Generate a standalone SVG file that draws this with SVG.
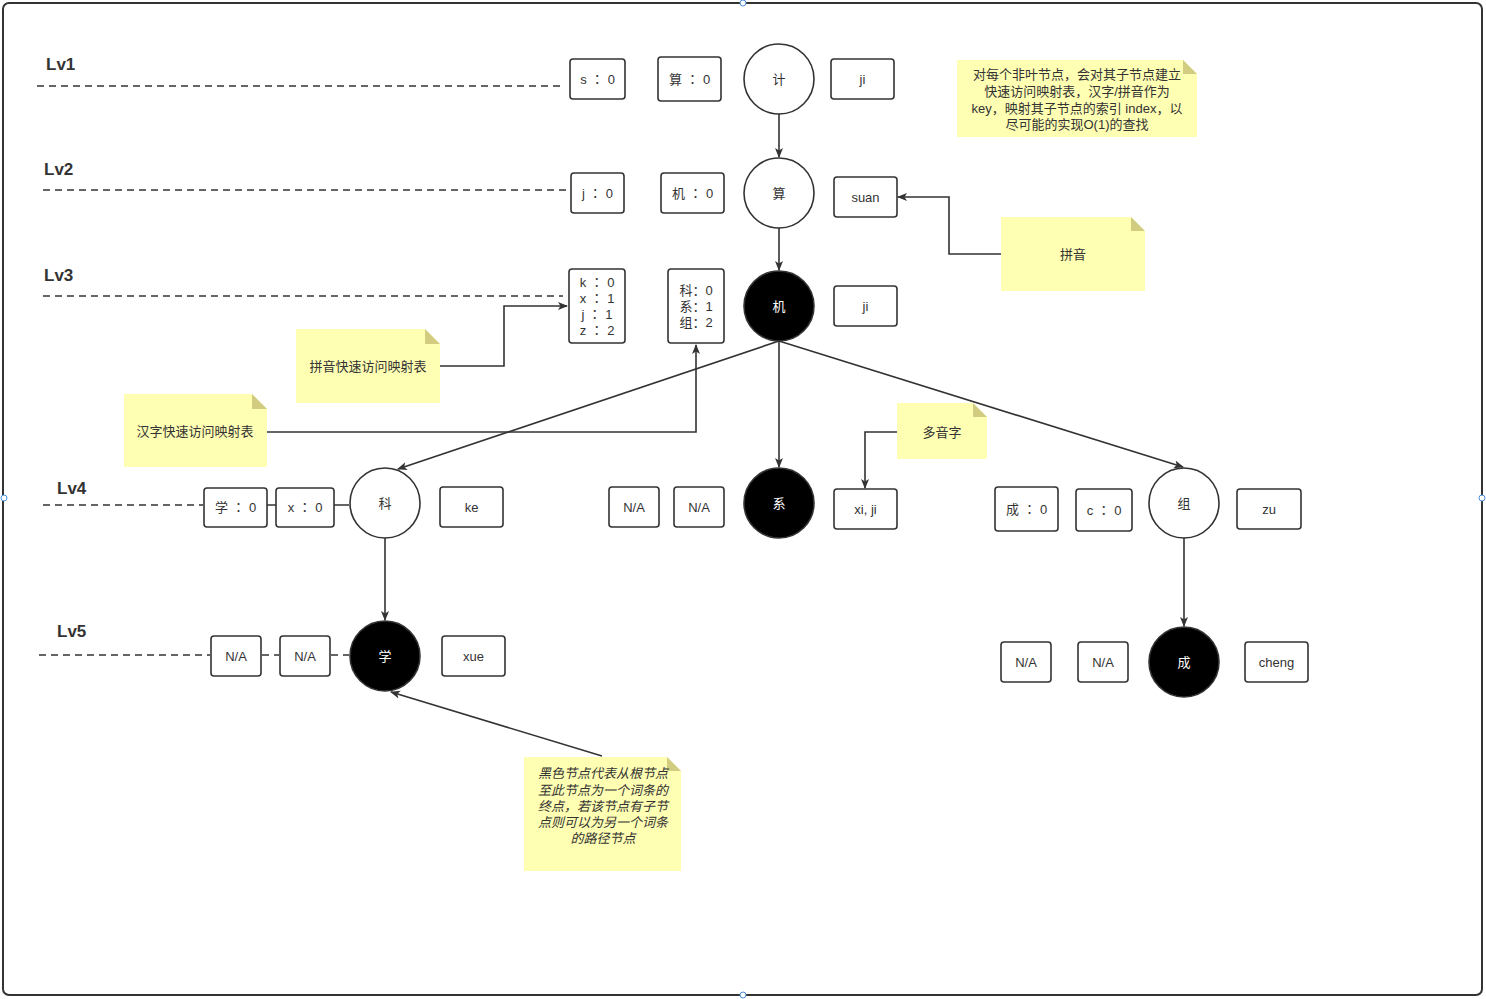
<svg xmlns="http://www.w3.org/2000/svg" width="1486" height="999" viewBox="0 0 1486 999">
<defs>
<marker id="arr" viewBox="0 0 10 10" refX="9" refY="5" markerWidth="10" markerHeight="10" markerUnits="userSpaceOnUse" orient="auto">
<path d="M0,1 L10,5 L0,9 L2.5,5 Z" fill="#333"/>
</marker>
<style>
.box{fill:#fff;stroke:#333;stroke-width:1.6}
.cw{fill:#fff;stroke:#333;stroke-width:1.6}
.cb{fill:#000;stroke:#333;stroke-width:1.6}
.t{font-family:"Liberation Sans","Noto Sans CJK SC",sans-serif;font-size:13px;fill:#333;text-anchor:middle;dominant-baseline:central}
.k{font-family:"Liberation Sans","Noto Sans CJK TC",sans-serif;letter-spacing:4px}
.tw{font-family:"Liberation Sans","Noto Sans CJK SC",sans-serif;font-size:13px;fill:#fff;text-anchor:middle;dominant-baseline:central}
.lv{font-family:"Liberation Sans","Noto Sans CJK SC",sans-serif;font-size:17px;fill:#333;font-weight:bold}
.dash{stroke:#333;stroke-width:1.6;stroke-dasharray:7 5;fill:none}
.note{fill:#ffffb3}
.fold{fill:#d2cc80}
.e{stroke:#333;stroke-width:1.6;fill:none;marker-end:url(#arr)}
.ln{stroke:#333;stroke-width:1.6;fill:none}
.h{fill:#fff;stroke:#4a90e2;stroke-width:1}
</style>
</defs>
<rect x="3" y="3" width="1479" height="992" rx="6" fill="#fff" stroke="#333" stroke-width="2"/>
<circle class="h" cx="743" cy="3" r="3"/><circle class="h" cx="743" cy="995" r="3"/>
<circle class="h" cx="4" cy="498" r="3"/><circle class="h" cx="1482" cy="498" r="3"/>

<g id="levels">
<text class="lv" x="46" y="70">Lv1</text>
<path class="dash" d="M37,86 H562"/>
<text class="lv" x="44" y="175">Lv2</text>
<path class="dash" d="M43,190 H568"/>
<text class="lv" x="44" y="281">Lv3</text>
<path class="dash" d="M43,296 H563"/>
<text class="lv" x="57" y="494">Lv4</text>
<path class="dash" d="M43,505 H203"/>
<text class="lv" x="57" y="637">Lv5</text>
<path class="dash" d="M39,655 H210 M262,655 H279 M331,655 H349"/>
</g>

<g id="connectors">
<path class="e" d="M779,114 V157"/>
<path class="e" d="M779,228 V270"/>
<path class="e" d="M779,341 L398,469"/>
<path class="e" d="M779,341 V467"/>
<path class="e" d="M779,341 L1183,467"/>
<path class="e" d="M385,538 V620"/>
<path class="e" d="M1184,538 V626"/>
<path class="e" d="M1001,254 H949 V197 H898"/>
<path class="e" d="M440,366 H504 V306 H567"/>
<path class="e" d="M267,432 H696 V345"/>
<path class="e" d="M897,432 H865 V488"/>
<path class="e" d="M602,756 L391,692"/>
<path class="ln" d="M267,505 H276 M334,505 H349"/>
</g>

<g id="lv1">
<g id="b-s0"><rect class="box" x="570" y="59" width="55" height="40" rx="3"/><text class="t k" x="599.5" y="79">s：0</text></g>
<g id="b-suan0"><rect class="box" x="658" y="57" width="63" height="44" rx="3"/><text class="t k" x="691.5" y="79">算：0</text></g>
<g id="n-ji"><circle class="cw" cx="779" cy="79" r="35"/><text class="t" x="779" y="79">计</text></g>
<g id="p-ji1"><rect class="box" x="831" y="59" width="63" height="40" rx="3"/><text class="t" x="862.5" y="79">ji</text></g>
</g>

<g id="lv2">
<g id="b-j0"><rect class="box" x="571" y="173" width="53" height="40" rx="3"/><text class="t k" x="599.5" y="193">j：0</text></g>
<g id="b-ji0"><rect class="box" x="661" y="173" width="63" height="40" rx="3"/><text class="t k" x="694.5" y="193">机：0</text></g>
<g id="n-suan"><circle class="cw" cx="779" cy="193" r="35"/><text class="t" x="779" y="193">算</text></g>
<g id="p-suan"><rect class="box" x="834" y="177" width="63" height="40" rx="3"/><text class="t" x="865.5" y="197">suan</text></g>
</g>

<g id="lv3">
<g id="b-pymap"><rect class="box" x="569" y="269" width="56" height="74" rx="3"/>
<text class="t k" x="599" y="282">k：0</text><text class="t k" x="599" y="298">x：1</text><text class="t k" x="599" y="314">j：1</text><text class="t k" x="599" y="330">z：2</text></g>
<g id="b-hzmap"><rect class="box" x="668" y="269" width="56" height="74" rx="3"/>
<text class="t" x="696" y="290">科：0</text><text class="t" x="696" y="306">系：1</text><text class="t" x="696" y="322">组：2</text></g>
<g id="n-ji2"><circle class="cb" cx="779" cy="306" r="35"/><text class="tw" x="779" y="306">机</text></g>
<g id="p-ji2"><rect class="box" x="834" y="286" width="63" height="40" rx="3"/><text class="t" x="865.5" y="306">ji</text></g>
</g>

<g id="lv4">
<g id="b-xue0"><rect class="box" x="204" y="488" width="63" height="39" rx="3"/><text class="t k" x="237.5" y="507">学：0</text></g>
<g id="b-x0"><rect class="box" x="276" y="488" width="58" height="39" rx="3"/><text class="t k" x="307" y="507">x：0</text></g>
<g id="n-ke"><circle class="cw" cx="385" cy="503" r="35"/><text class="t" x="385" y="503">科</text></g>
<g id="p-ke"><rect class="box" x="440" y="487" width="63" height="40" rx="3"/><text class="t" x="471.5" y="507">ke</text></g>
<g id="b-na1"><rect class="box" x="609" y="487" width="50" height="40" rx="3"/><text class="t" x="634" y="507">N/A</text></g>
<g id="b-na2"><rect class="box" x="674" y="487" width="50" height="40" rx="3"/><text class="t" x="699" y="507">N/A</text></g>
<g id="n-xi"><circle class="cb" cx="779" cy="503" r="35"/><text class="tw" x="779" y="503">系</text></g>
<g id="p-xi"><rect class="box" x="834" y="489" width="63" height="40" rx="3"/><text class="t" x="865.5" y="509">xi, ji</text></g>
<g id="b-cheng0"><rect class="box" x="995" y="487" width="63" height="44" rx="3"/><text class="t k" x="1028.5" y="509">成：0</text></g>
<g id="b-c0"><rect class="box" x="1076" y="489" width="56" height="42" rx="3"/><text class="t k" x="1106" y="510">c：0</text></g>
<g id="n-zu"><circle class="cw" cx="1184" cy="503" r="35"/><text class="t" x="1184" y="503">组</text></g>
<g id="p-zu"><rect class="box" x="1237" y="489" width="64" height="40" rx="3"/><text class="t" x="1269" y="509">zu</text></g>
</g>

<g id="lv5">
<g id="b-na3"><rect class="box" x="211" y="636" width="50" height="40" rx="3"/><text class="t" x="236" y="656">N/A</text></g>
<g id="b-na4"><rect class="box" x="280" y="636" width="50" height="40" rx="3"/><text class="t" x="305" y="656">N/A</text></g>
<g id="n-xue"><circle class="cb" cx="385" cy="656" r="35"/><text class="tw" x="385" y="656">学</text></g>
<g id="p-xue"><rect class="box" x="442" y="636" width="63" height="40" rx="3"/><text class="t" x="473.5" y="656">xue</text></g>
<g id="b-na5"><rect class="box" x="1001" y="642" width="50" height="40" rx="3"/><text class="t" x="1026" y="662">N/A</text></g>
<g id="b-na6"><rect class="box" x="1078" y="642" width="50" height="40" rx="3"/><text class="t" x="1103" y="662">N/A</text></g>
<g id="n-cheng"><circle class="cb" cx="1184" cy="662" r="35"/><text class="tw" x="1184" y="662">成</text></g>
<g id="p-cheng"><rect class="box" x="1245" y="642" width="63" height="40" rx="3"/><text class="t" x="1276.5" y="662">cheng</text></g>
</g>

<g id="note-top">
<path class="note" d="M957,60 H1183 L1197,74 V137 H957 Z"/><path class="fold" d="M1183,60 L1197,74 H1183 Z"/>
<text class="t" x="1077" y="74">对每个非叶节点，会对其子节点建立</text>
<text class="t" x="1077" y="91">快速访问映射表，汉字/拼音作为</text>
<text class="t" x="1077" y="108">key，映射其子节点的索引 index，以</text>
<text class="t" x="1077" y="124">尽可能的实现O(1)的查找</text>
</g>
<g id="note-pinyin">
<path class="note" d="M1001,217 H1131 L1145,231 V291 H1001 Z"/><path class="fold" d="M1131,217 L1145,231 H1131 Z"/>
<text class="t" x="1073" y="254">拼音</text>
</g>
<g id="note-pymap">
<path class="note" d="M296,329 H425 L440,344 V403 H296 Z"/><path class="fold" d="M425,329 L440,344 H425 Z"/>
<text class="t" x="368" y="366">拼音快速访问映射表</text>
</g>
<g id="note-hzmap">
<path class="note" d="M124,394 H252 L267,409 V467 H124 Z"/><path class="fold" d="M252,394 L267,409 H252 Z"/>
<text class="t" x="195" y="431">汉字快速访问映射表</text>
</g>
<g id="note-duoyin">
<path class="note" d="M897,403 H973 L987,417 V459 H897 Z"/><path class="fold" d="M973,403 L987,417 H973 Z"/>
<text class="t" x="942" y="432">多音字</text>
</g>
<g id="note-black">
<path class="note" d="M524,757 H667 L681,771 V871 H524 Z"/><path class="fold" d="M667,757 L681,771 H667 Z"/>
<g font-style="italic">
<text class="t" x="603" y="773">黑色节点代表从根节点</text>
<text class="t" x="603" y="790">至此节点为一个词条的</text>
<text class="t" x="603" y="806">终点，若该节点有子节</text>
<text class="t" x="603" y="822">点则可以为另一个词条</text>
<text class="t" x="603" y="838">的路径节点</text>
</g>
</g>
</svg>
